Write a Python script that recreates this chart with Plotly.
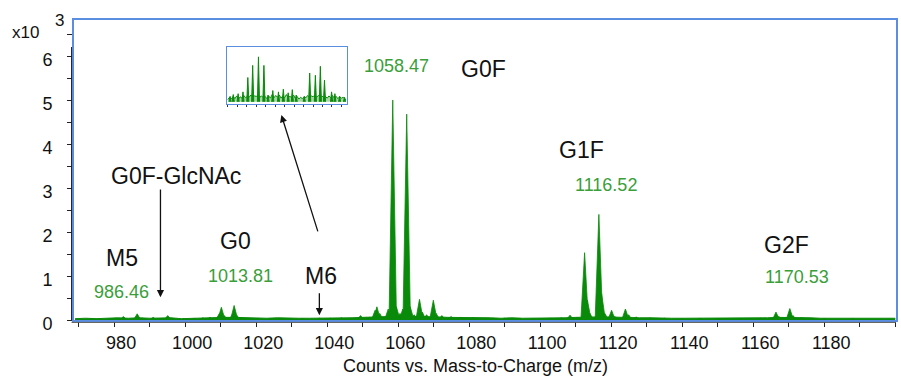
import plotly.graph_objects as go

# ---------------- data ----------------
# main spectrum peaks: m/z and intensity (x10^3 counts)
peak_mz = [975.0, 978.5, 982.6, 986.5, 988.0, 991.0, 995.1, 999.5, 1002.5, 1005.0,
           1007.0, 1009.6, 1010.2, 1011.0, 1013.3, 1013.8, 1014.6, 1016.0, 1020.5, 1024.0,
           1027.0, 1033.0, 1037.8, 1041.0, 1044.0, 1046.5, 1049.4, 1052.0, 1053.5, 1054.0,
           1054.8, 1056.5, 1057.2, 1058.47, 1059.5, 1060.5, 1061.3, 1062.4, 1063.4, 1064.5,
           1066.0, 1066.8, 1068.0, 1069.9, 1070.7, 1072.3, 1074.9, 1077.5, 1081.0, 1085.0,
           1090.0, 1094.0, 1098.0, 1103.0, 1106.0, 1108.4, 1110.5, 1112.5, 1113.3, 1114.0,
           1116.52, 1117.3, 1118.2, 1120.1, 1121.0, 1124.0, 1124.9, 1127.0, 1131.0, 1135.0,
           1140.0, 1145.0, 1150.0, 1156.0, 1162.0, 1166.4, 1167.2, 1170.3, 1171.2, 1173.5,
           1176.0, 1180.0, 1188.0]
peak_h = [0.03, 0.03, 0.08, 0.14, 0.04, 0.06, 0.10, 0.03, 0.04, 0.05,
          0.06, 0.14, 0.29, 0.10, 0.12, 0.33, 0.10, 0.05, 0.04, 0.03,
          0.04, 0.03, 0.04, 0.04, 0.05, 0.04, 0.10, 0.06, 0.22, 0.30,
          0.15, 0.09, 0.25, 5.00, 0.30, 0.15, 0.25, 4.68, 0.30, 0.12,
          0.47, 0.18, 0.12, 0.45, 0.15, 0.10, 0.08, 0.06, 0.05, 0.04,
          0.04, 0.04, 0.03, 0.04, 0.05, 0.11, 0.05, 1.53, 0.45, 0.15,
          2.40, 0.60, 0.15, 0.22, 0.08, 0.25, 0.12, 0.07, 0.05, 0.04,
          0.03, 0.04, 0.03, 0.03, 0.04, 0.18, 0.08, 0.26, 0.10, 0.05,
          0.04, 0.03, 0.03]

# low-level baseline noise of the main spectrum
noise_mz = [969, 972, 975, 978, 981, 984, 987, 990, 993, 996, 999, 1002, 1005, 1008,
            1011, 1014, 1017, 1020, 1023, 1026, 1029, 1032, 1035, 1038, 1041, 1044, 1047,
            1050, 1053, 1056, 1059, 1062, 1065, 1068, 1071, 1074, 1077, 1080, 1083, 1086,
            1089, 1092, 1095, 1098, 1101, 1104, 1107, 1110, 1113, 1116, 1119, 1122, 1125,
            1128, 1131, 1134, 1137, 1140, 1143, 1146, 1149, 1152, 1155, 1158, 1161, 1164,
            1167, 1170, 1173, 1176, 1179, 1182, 1185, 1188, 1191, 1194, 1197, 1200]
noise_h = [0.03, 0.04, 0.03, 0.04, 0.05, 0.04, 0.05, 0.04, 0.04, 0.05, 0.03, 0.04, 0.05, 0.06,
           0.06, 0.06, 0.05, 0.04, 0.04, 0.05, 0.04, 0.04, 0.04, 0.04, 0.05, 0.05, 0.05,
           0.06, 0.07, 0.08, 0.09, 0.09, 0.08, 0.08, 0.07, 0.06, 0.06, 0.05, 0.05, 0.05,
           0.04, 0.05, 0.04, 0.04, 0.04, 0.05, 0.05, 0.06, 0.07, 0.07, 0.07, 0.06, 0.06,
           0.05, 0.05, 0.04, 0.04, 0.04, 0.04, 0.04, 0.04, 0.04, 0.04, 0.04, 0.04, 0.05,
           0.06, 0.06, 0.05, 0.05, 0.04, 0.04, 0.04, 0.04, 0.04, 0.04, 0.04, 0.04]

# inset spectrum (relative scale 0-100 on both axes)
inset_x = [1.9, 4.6, 8.7, 12.8, 16.9, 21.0, 25.9, 30.5, 34.0, 38.0, 42.8, 46.9, 51.0,
           54.5, 57.8, 64.6, 69.2, 74.0, 78.2, 81.7, 87.7, 90.5, 94.5, 98.6]
inset_h = [12, 16, 18, 22, 54, 81, 100, 81, 15, 25, 22, 28, 20,
           27, 15, 12, 64, 59, 79, 48, 22, 18, 12, 10]
inset_noise_x = [0, 1.5, 3, 4.5, 6, 7.5, 9, 10.5, 12, 13.5, 15, 16.5, 18, 19.5, 21, 22.5,
                 24, 25.5, 27, 28.5, 30, 31.5, 33, 34.5, 36, 37.5, 39, 40.5, 42, 43.5,
                 45, 46.5, 48, 49.5, 51, 52.5, 54, 55.5, 57, 58.5, 60, 61.5, 63, 64.5,
                 66, 67.5, 69, 70.5, 72, 73.5, 75, 76.5, 78, 79.5, 81, 82.5, 84, 85.5,
                 87, 88.5, 90, 91.5, 93, 94.5, 96, 97.5, 99, 100]
inset_noise_h = [5, 10, 6, 12, 7, 13, 6, 11, 8, 14, 9, 12, 10, 15, 11, 13, 12, 14, 10, 13,
                 9, 12, 7, 13, 8, 16, 9, 14, 10, 15, 8, 13, 9, 16, 10, 12, 9, 15, 8, 12,
                 6, 10, 7, 11, 9, 14, 10, 13, 11, 15, 10, 14, 11, 13, 9, 12, 8, 13,
                 9, 14, 8, 12, 7, 11, 8, 10, 6, 5]

# labels
glycan_names = ["G0F-GlcNAc", "M5", "G0", "M6", "G0F", "G1F", "G2F"]
glycan_x = [997.35, 982.2, 1014.2, 1038.4, 1084.1, 1111.7, 1169.3]
glycan_y = [3.27, 1.41, 1.80, 1.00, 5.70, 3.86, 1.70]
mass_labels = ["986.46", "1013.81", "1058.47", "1116.52", "1170.53"]
mass_x = [982.2, 1015.6, 1059.4, 1118.4, 1172.35]
mass_y = [0.64, 1.00, 5.77, 3.07, 0.98]

x_range = [968.7, 1200.2]
y_range = [0, 6.82]

# ---------------- styles ----------------
GREEN = "#0a8a0a"
TEXT_GREEN = "#3a9e3a"
BLUE = "#5b8ee0"
FONT = "Liberation Sans, Arial, sans-serif"
HW = 1.05        # half width of a drawn peak (m/z)
INSET_HW = 0.9


def triangles(xs, hs, hw):
    px, py = [], []
    for m, v in zip(xs, hs):
        px += [m - hw, m, m + hw, None]
        py += [0, v, 0, None]
    return px, py


fig = go.Figure()

# baseline noise (main)
fig.add_trace(go.Scatter(x=noise_mz, y=noise_h, mode="lines", fill="tozeroy",
                         line=dict(color=GREEN, width=1), fillcolor=GREEN,
                         hoverinfo="skip", showlegend=False))
# peaks (main)
px, py = triangles(peak_mz, peak_h, HW)
fig.add_trace(go.Scatter(x=px, y=py, mode="lines", fill="toself",
                         line=dict(color=GREEN, width=0.8), fillcolor=GREEN,
                         hoverinfo="skip", showlegend=False))

# inset
fig.add_trace(go.Scatter(x=inset_noise_x, y=inset_noise_h, mode="lines", fill="tozeroy",
                         line=dict(color=GREEN, width=1), fillcolor="rgba(10,138,10,0.35)",
                         xaxis="x2", yaxis="y2", hoverinfo="skip", showlegend=False))
ix, iy = triangles(inset_x, inset_h, INSET_HW)
fig.add_trace(go.Scatter(x=ix, y=iy, mode="lines", fill="toself",
                         line=dict(color=GREEN, width=1), fillcolor=GREEN,
                         xaxis="x2", yaxis="y2", hoverinfo="skip", showlegend=False))

annotations = []
for t, x, y in zip(glycan_names, glycan_x, glycan_y):
    annotations.append(dict(x=x, y=y, xref="x", yref="y", text=t, showarrow=False,
                            xanchor="center", yanchor="middle",
                            font=dict(family=FONT, size=23, color="#111111")))
for t, x, y in zip(mass_labels, mass_x, mass_y):
    annotations.append(dict(x=x, y=y, xref="x", yref="y", text=t, showarrow=False,
                            xanchor="center", yanchor="middle",
                            font=dict(family=FONT, size=18, color=TEXT_GREEN)))

# arrows
arrow_style = dict(showarrow=True, arrowhead=2, arrowsize=1.1, arrowwidth=1.3,
                   arrowcolor="#111111", text="", xref="x", yref="y",
                   axref="x", ayref="y")
annotations.append(dict(x=993.05, y=0.52, ax=993.05, ay=3.0, **arrow_style))
annotations.append(dict(x=1037.8, y=0.11, ax=1037.8, ay=0.64, **arrow_style))
annotations.append(dict(x=1027.1, y=4.66, ax=1037.5, ay=1.98, **arrow_style))

# axis scale / title texts
annotations.append(dict(x=-0.0595, y=0.958, xref="paper", yref="paper", text="x10",
                        showarrow=False, xanchor="center", yanchor="middle",
                        font=dict(family=FONT, size=17, color="#111111")))
annotations.append(dict(x=-0.0182, y=0.997, xref="paper", yref="paper", text="3",
                        showarrow=False, xanchor="center", yanchor="middle",
                        font=dict(family=FONT, size=17, color="#111111")))
annotations.append(dict(x=0.488, y=-0.153, xref="paper", yref="paper",
                        text="Counts vs. Mass-to-Charge (m/z)", showarrow=False,
                        xanchor="center", yanchor="middle",
                        font=dict(family=FONT, size=18, color="#111111")))

shapes = [
    dict(type="line", xref="paper", yref="paper", x0=-0.003, x1=-0.003, y0=0, y1=0.91,
         line=dict(color="#222222", width=1)),
    dict(type="line", xref="paper", yref="paper", x0=-0.003, x1=1, y0=-0.008, y1=-0.008,
         line=dict(color="#555555", width=1)),
]

fig.update_layout(
    width=901, height=377,
    margin=dict(l=74, r=3, t=20, b=57),
    paper_bgcolor="white", plot_bgcolor="white",
    font=dict(family=FONT, color="#111111"),
    showlegend=False,
    annotations=annotations,
    shapes=shapes,
    xaxis=dict(range=x_range, tick0=980, dtick=20, ticks="outside", ticklen=5,
               tickcolor="#222222", showgrid=False, zeroline=False,
               showline=True, linecolor=BLUE, linewidth=2, mirror=True,
               tickfont=dict(family=FONT, size=18, color="#111111"),
               ticklabelshift=7,
               minor=dict(dtick=10, tick0=970, ticks="outside", ticklen=5,
                          tickcolor="#222222", showgrid=False)),
    yaxis=dict(range=y_range, dtick=1, ticks="outside", ticklen=5,
               tickcolor="#222222", showgrid=False, zeroline=False,
               showline=True, linecolor=BLUE, linewidth=2, mirror=True,
               tickfont=dict(family=FONT, size=18, color="#111111"),
               ticklabelstandoff=11, ticklabelshift=4,
               minor=dict(dtick=0.5, ticks="outside", ticklen=5,
                          tickcolor="#222222", showgrid=False)),
    xaxis2=dict(domain=[0.1857, 0.3325], anchor="y2", range=[-1, 101],
                showgrid=False, zeroline=False, showticklabels=False,
                ticks="outside", ticklen=2, dtick=8, tickcolor="#333333",
                showline=True, linecolor=BLUE, linewidth=1.2, mirror=True),
    yaxis2=dict(domain=[0.72, 0.91], anchor="x2", range=[-5, 122],
                showgrid=False, zeroline=False, showticklabels=False, ticks="",
                showline=True, linecolor=BLUE, linewidth=1.2, mirror=True),
)

fig.write_html("out.html")
